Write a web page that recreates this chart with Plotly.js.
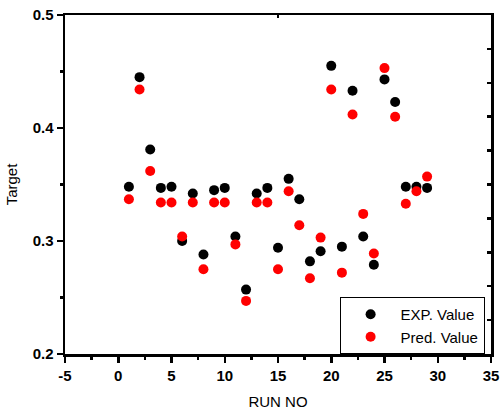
<!DOCTYPE html>
<html>
<head>
<meta charset="utf-8">
<script src="https://cdn.plot.ly/plotly-3.0.1.min.js"></script>
<style>
  html, body { margin: 0; padding: 0; background: #fff; }
  #chart { width: 500px; height: 413px; }
</style>
</head>
<body>
<div id="chart"></div>
<script>
// Run numbers and target values
const runNo = [1, 2, 3, 4, 5, 6, 7, 8, 9, 10, 11, 12, 13, 14, 15, 16, 17, 18, 19, 20, 21, 22, 23, 24, 25, 26, 27, 28, 29];
const expValue = [0.348, 0.445, 0.381, 0.347, 0.348, 0.300, 0.342, 0.288, 0.345, 0.347, 0.304, 0.257, 0.342, 0.347, 0.294,
                  0.355, 0.337, 0.282, 0.291, 0.455, 0.295, 0.433, 0.304, 0.279, 0.443, 0.423, 0.348, 0.348, 0.347];
const predValue = [0.337, 0.434, 0.362, 0.334, 0.334, 0.304, 0.334, 0.275, 0.334, 0.334, 0.297, 0.247, 0.334, 0.334, 0.275,
                   0.344, 0.314, 0.267, 0.303, 0.434, 0.272, 0.412, 0.324, 0.289, 0.453, 0.410, 0.333, 0.344, 0.357];
const seriesNames = ['EXP. Value', 'Pred. Value'];

// Axis tick positions and their labels
const xTickVals = [-5, 0, 5, 10, 15, 20, 25, 30, 35];
const xTickLabels = ['-5', '0', '5', '10', '15', '20', '25', '30', '35'];
const yTickVals = [0.2, 0.3, 0.4, 0.5];
const yTickLabels = ['0.2', '0.3', '0.4', '0.5'];

const FAMILY = 'Liberation Sans, Arial, sans-serif';
const bold = s => '<b>' + s + '</b>';
const tickFont = { family: FAMILY, size: 15, color: '#000' };
const titleFont = { family: FAMILY, size: 15, color: '#000' };

const traces = [
  {
    x: runNo, y: expValue, name: seriesNames[0], type: 'scatter', mode: 'markers',
    marker: { color: '#000000', size: 10 }
  },
  {
    x: runNo, y: predValue, name: seriesNames[1], type: 'scatter', mode: 'markers',
    marker: { color: '#ff0000', size: 10 }
  },
  // invisible carrier for the frame's right and top tick marks
  { x: [0], y: [0], xaxis: 'x2', yaxis: 'y2', mode: 'markers', marker: { opacity: 0 }, showlegend: false, hoverinfo: 'skip' }
];

const layout = {
  width: 500, height: 413,
  margin: { l: 65, r: 9, t: 15, b: 59 },
  paper_bgcolor: '#fff', plot_bgcolor: '#fff',
  showlegend: true,
  xaxis: {
    range: [-5, 35], tickmode: 'array', tickvals: xTickVals, ticktext: xTickLabels.map(bold),
    showgrid: false, zeroline: false,
    showline: true, linecolor: '#000', linewidth: 2.5,
    ticks: 'outside', ticklen: 6, tickwidth: 2.5, tickcolor: '#000',
    minor: { dtick: 2.5, tick0: -5, ticks: 'outside', ticklen: 3, tickwidth: 2.5, tickcolor: '#000' },
    tickfont: tickFont,
    title: { text: 'RUN NO', font: titleFont, standoff: 14 }
  },
  yaxis: {
    range: [0.2, 0.5], tickmode: 'array', tickvals: yTickVals, ticktext: yTickLabels.map(bold),
    showgrid: false, zeroline: false,
    showline: true, linecolor: '#000', linewidth: 2.5,
    ticks: 'outside', ticklen: 6, tickwidth: 2.5, tickcolor: '#000',
    minor: { dtick: 0.05, tick0: 0.2, ticks: 'outside', ticklen: 3, tickwidth: 2.5, tickcolor: '#000' },
    tickfont: tickFont,
    title: { text: 'Target', font: titleFont, standoff: 12 }
  },
  xaxis2: {
    overlaying: 'x', side: 'top', range: [-5, 35],
    tickvals: [15], showticklabels: false,
    ticks: 'inside', ticklen: 3, tickwidth: 2.5, tickcolor: '#000',
    showgrid: false, zeroline: false,
    showline: true, linecolor: '#000', linewidth: 2.5
  },
  yaxis2: {
    overlaying: 'y', side: 'right', range: [0, 10], dtick: 1,
    showticklabels: false,
    ticks: 'inside', ticklen: 4, tickwidth: 2.5, tickcolor: '#000',
    showgrid: false, zeroline: false,
    showline: true, linecolor: '#000', linewidth: 2.5
  },
  legend: {
    x: 0.985, xanchor: 'right', y: 0, yanchor: 'bottom',
    bgcolor: '#fff', bordercolor: '#000', borderwidth: 1,
    font: { family: FAMILY, size: 15, color: '#000' },
    tracegroupgap: 0, itemwidth: 50
  }
};

Plotly.newPlot('chart', traces, layout, { displayModeBar: false, staticPlot: true });
</script>
</body>
</html>
